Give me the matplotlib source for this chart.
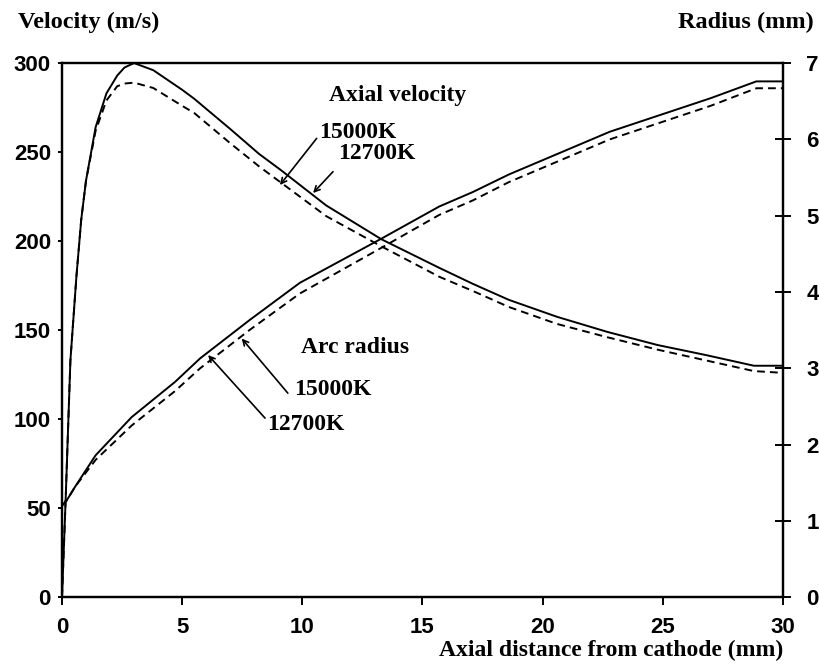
import numpy as np
import matplotlib.pyplot as plt

# axial distance from cathode (mm)
x_vel = [0, 0.15, 0.35, 0.6, 0.8, 1.0, 1.4, 1.85, 2.3, 2.6, 3.0, 3.8, 5.0, 5.5, 7.0, 8.2,
         9.1, 11.0, 13.3, 15.7, 17.1, 18.6, 20.6, 22.7, 24.8, 26.8, 28.8, 30.0]
vel_15000 = [0, 54, 133, 180, 212, 234, 264, 283, 293, 297.5, 300, 296, 285, 280, 263, 249,
             240, 220, 201, 185, 176, 167, 157.5, 149, 141.6, 136, 130, 130]
vel_12700 = [0, 54, 133, 180, 212, 234, 262, 279, 287, 288.5, 289, 286, 276, 272, 255, 242,
             233, 214, 197, 180, 172, 163, 153.5, 146, 139, 133, 127, 126]

x_rad = [0, 0.2, 0.55, 1.4, 2.9, 4.7, 5.75, 7.8, 9.9, 13.3, 15.7, 17.1, 18.6, 20.7, 22.8,
         24.9, 27.0, 28.9, 30.0]
rad_15000 = [1.2, 1.27, 1.45, 1.86, 2.36, 2.82, 3.13, 3.63, 4.12, 4.70, 5.12, 5.31, 5.54,
             5.82, 6.10, 6.32, 6.54, 6.76, 6.76]
rad_12700 = [1.2, 1.27, 1.45, 1.80, 2.25, 2.70, 3.00, 3.50, 3.98, 4.58, 5.01, 5.20, 5.44,
             5.72, 6.00, 6.22, 6.44, 6.67, 6.67]

serif = dict(family='Liberation Serif', weight='bold')
sans = dict(family='Liberation Sans', weight='bold', size=16)

fig = plt.figure(figsize=(8.2, 6.71), dpi=100)
ax = fig.add_axes([0.0756, 0.110, 0.879, 0.796])
ax2 = ax.twinx()

lw = 1.4
dash = (4, 2.6)
ax.plot(x_vel, vel_15000, color='black', lw=lw)
ax.plot(x_vel, vel_12700, color='black', lw=lw, dashes=dash)
ax2.plot(x_rad, rad_15000, color='black', lw=lw)
ax2.plot(x_rad, rad_12700, color='black', lw=lw, dashes=dash)

ax.set_xlim(0, 30)
ax.set_ylim(0, 300)
ax2.set_ylim(0, 7)
ax.set_xticks(np.arange(0, 31, 5))
ax.set_yticks(np.arange(0, 301, 50))
ax2.set_yticks(np.arange(0, 8, 1))

for a in (ax, ax2):
    for s in a.spines.values():
        s.set_linewidth(1.6)
ax.tick_params(axis='x', direction='out', length=6, width=1.4, pad=8)
ax.tick_params(axis='y', direction='out', length=3, width=1.4, pad=5)
ax2.tick_params(axis='y', direction='inout', length=12, width=1.4, pad=11)
for lab in ax.get_xticklabels() + ax.get_yticklabels() + ax2.get_yticklabels():
    lab.set_fontproperties(sans)

fig.text(0.022, 0.966, 'Velocity (m/s)', fontsize=17.5, va='center', **serif)
fig.text(0.992, 0.966, 'Radius (mm)', fontsize=17.5, va='center', ha='right', **serif)
fig.text(0.955, 0.030, 'Axial distance from cathode (mm)', fontsize=17, va='center',
         ha='right', **serif)

txt = dict(fontsize=17, ha='center', va='center', **serif)
arr = dict(arrowstyle='->', color='black', lw=1.2, shrinkA=0, shrinkB=0)
ax.text(13.98, 282, 'Axial velocity', **txt)
ax.text(12.32, 261, '15000K', **txt)
ax.text(13.1, 249, '12700K', **txt)
ax.annotate('', xy=(9.07, 231.5), xytext=(10.6, 257.7), arrowprops=arr)
ax.annotate('', xy=(10.45, 227), xytext=(11.28, 239), arrowprops=arr)

ax.text(12.19, 140.4, 'Arc radius', **txt)
ax.text(11.28, 116.9, '15000K', **txt)
ax.text(10.15, 97.2, '12700K', **txt)
ax.annotate('', xy=(7.48, 145.3), xytext=(9.4, 114.6), arrowprops=arr)
ax.annotate('', xy=(6.08, 136), xytext=(8.45, 100.6), arrowprops=arr)

fig.savefig('out.png', dpi=100)
